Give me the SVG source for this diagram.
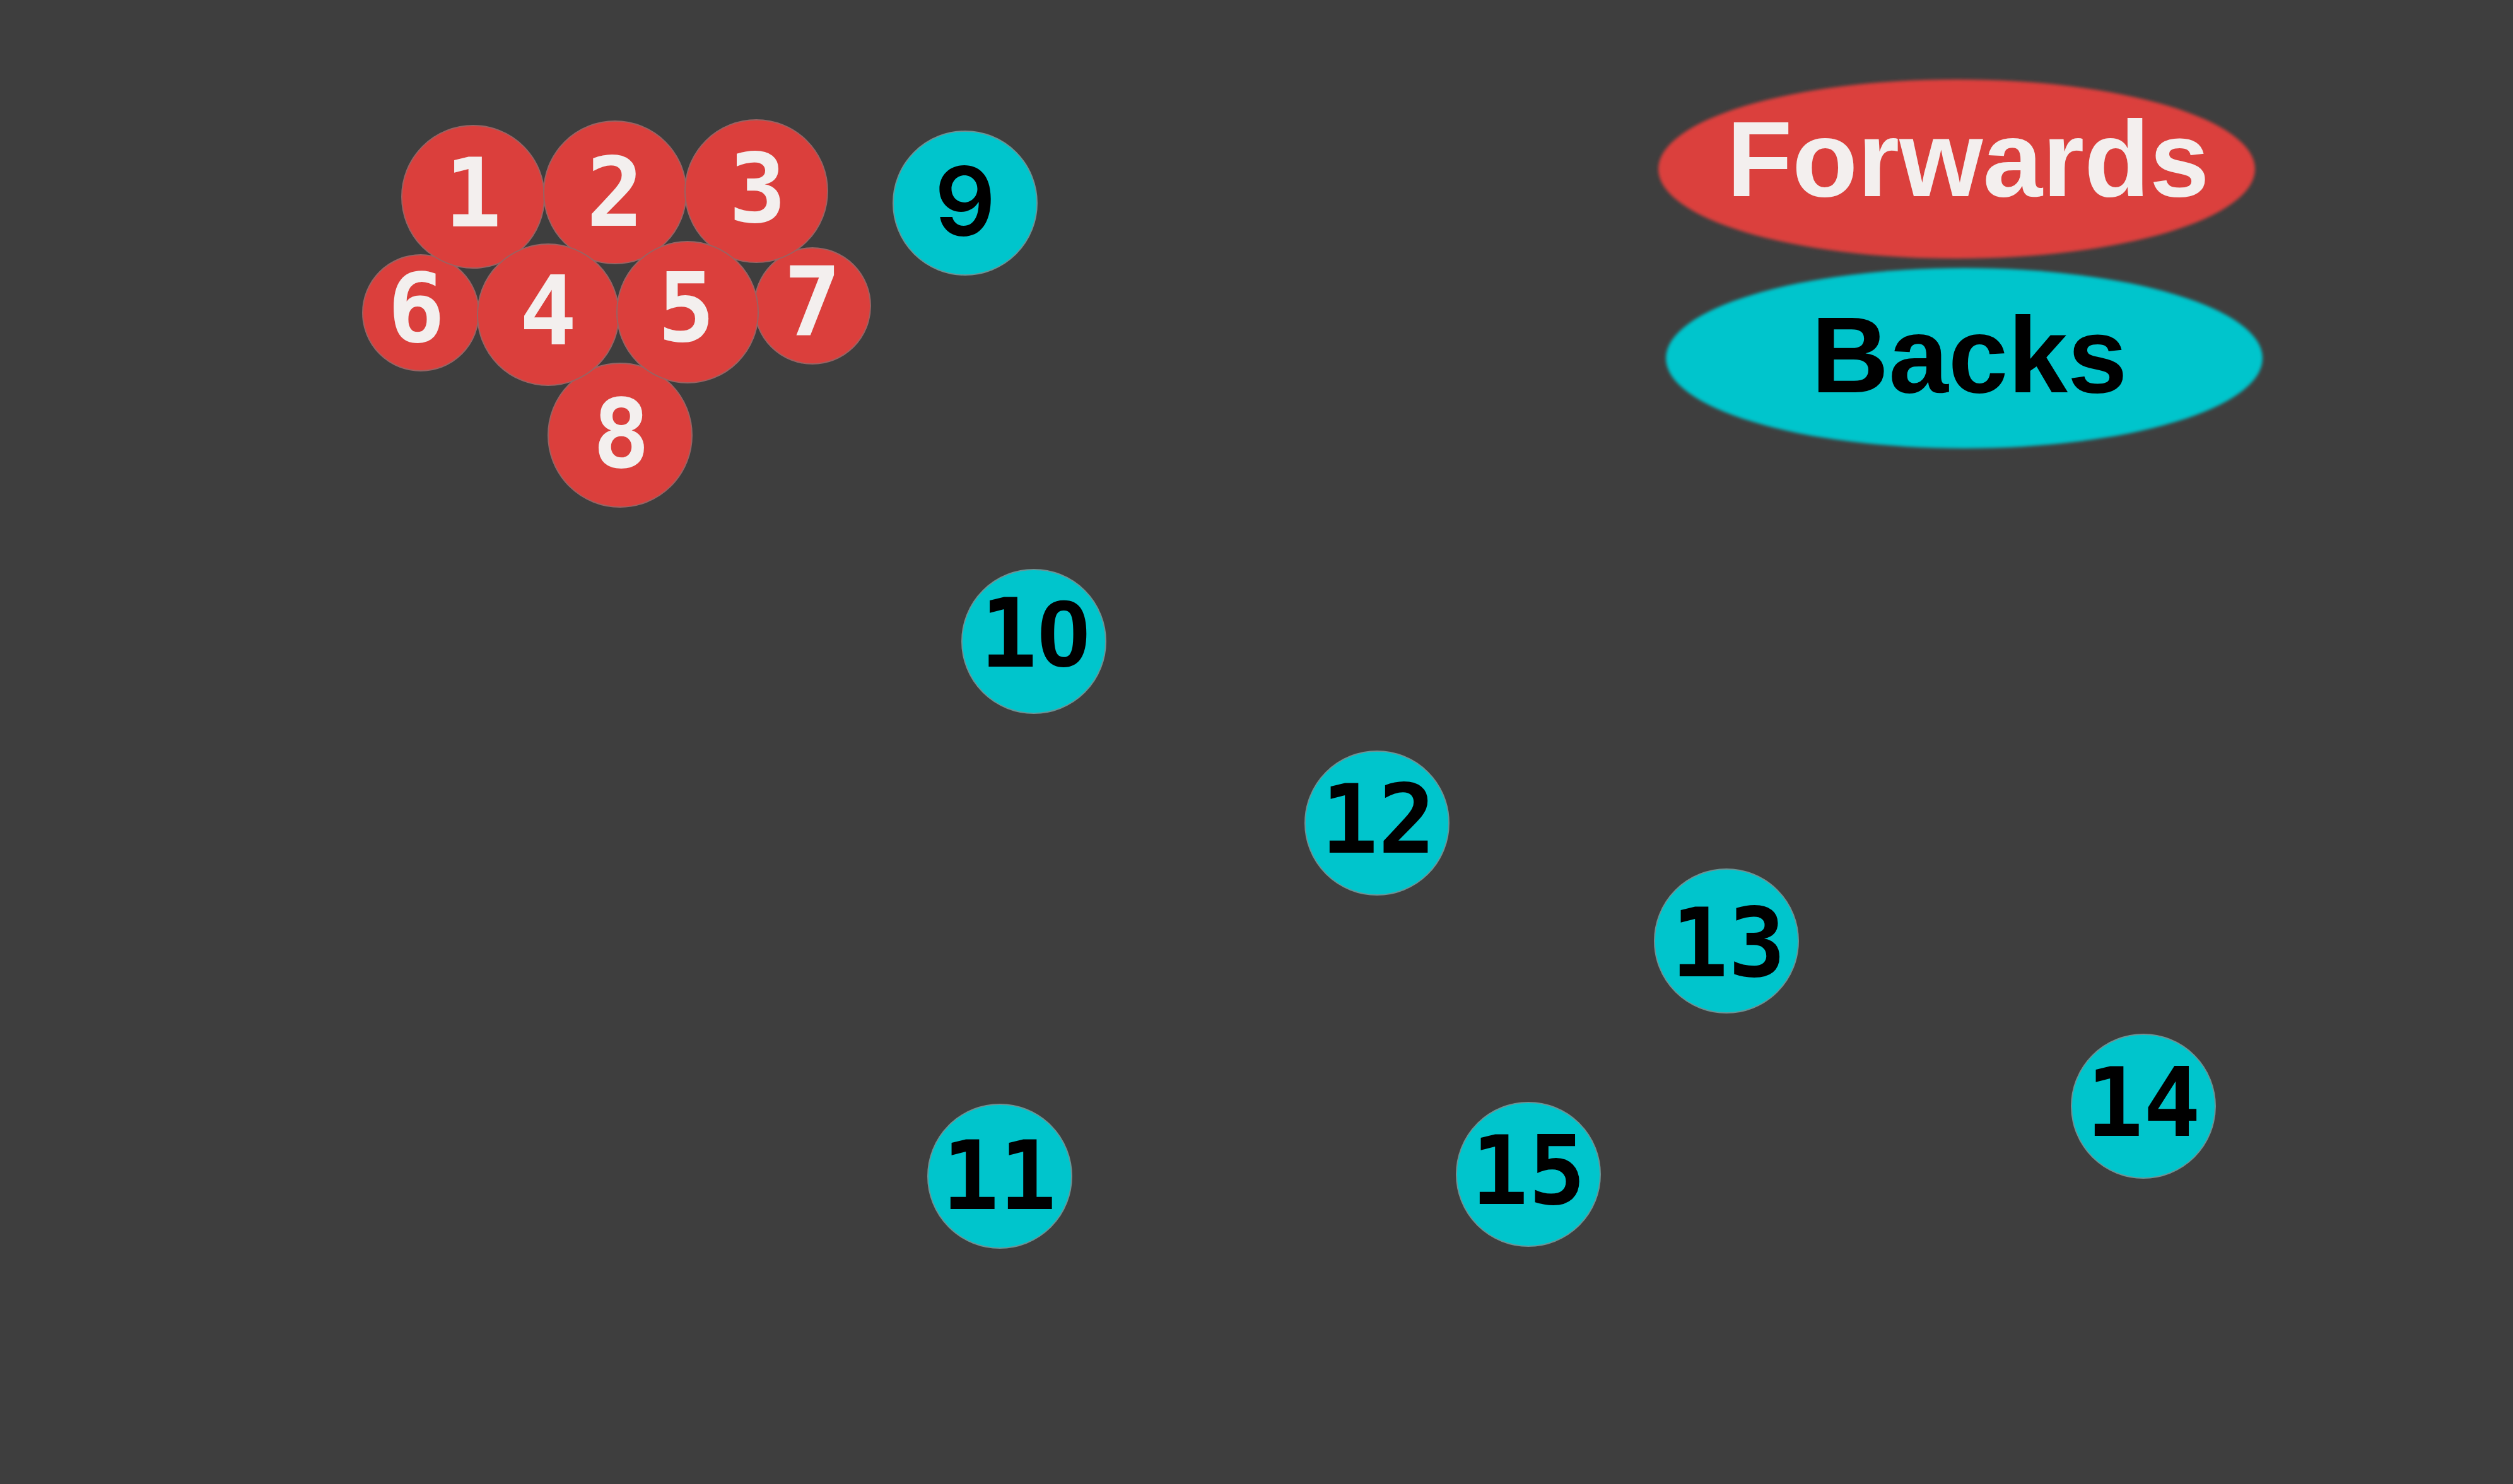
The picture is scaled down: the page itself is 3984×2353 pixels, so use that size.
<svg xmlns="http://www.w3.org/2000/svg" width="3984" height="2353" viewBox="0 0 3984 2353">
<style>
.fw{fill:#db3f3c;stroke:#9a6262;stroke-width:2}
.bk{fill:#00c5cc;stroke:#6a9496;stroke-width:2}
.fwt{fill:#f3efee;font-family:"DejaVu Sans Mono",monospace;font-weight:bold;font-size:151px;text-anchor:middle}
.bkt{fill:#000;font-family:"DejaVu Sans Mono",monospace;font-weight:bold;font-size:151px;text-anchor:middle}
.alt{font-family:"Liberation Sans",Arial,sans-serif}
.geo{font-family:Inter,"Liberation Sans",sans-serif;font-weight:600}
.lg{font-family:"Liberation Sans",Arial,sans-serif;font-weight:bold;font-size:170px;text-anchor:middle}
</style>
<defs>
<filter id="soft" x="-5%" y="-5%" width="110%" height="110%"><feGaussianBlur stdDeviation="2.5"/></filter>
</defs>
<rect width="3984" height="2353" fill="#3e3e3e"/>
<g id="connectors"/>
<g id="legend-forwards"><ellipse cx="3102" cy="268" rx="473" ry="142" fill="#db3f3c" filter="url(#soft)"/><text class="lg" x="3120" y="311" fill="#f3efee">Forwards</text></g>
<g id="legend-backs"><ellipse cx="3114" cy="568" rx="473" ry="143" fill="#00c5cc" filter="url(#soft)"/><text class="lg" x="3122" y="622" fill="#000">Backs</text></g>
<g id="p6"><circle class="fw" cx="667" cy="496" r="92"/><text class="fwt" x="660" y="542">6</text></g>
<g id="p7"><circle class="fw" cx="1288" cy="485" r="92"/><text class="fwt" x="1288" y="531">7</text></g>
<g id="p1"><circle class="fw" cx="750" cy="312" r="113"/><text class="fwt" x="750" y="359">1</text></g>
<g id="p2"><circle class="fw" cx="975" cy="305" r="113"/><text class="fwt" x="975" y="358">2</text></g>
<g id="p3"><circle class="fw" cx="1199" cy="303" r="113"/><text class="fwt" x="1201" y="352">3</text></g>
<g id="p8"><circle class="fw" cx="983" cy="690" r="114"/><text class="fwt" x="985" y="741">8</text></g>
<g id="p4"><circle class="fw" cx="869" cy="499" r="112"/><text class="fwt" x="869" y="546">4</text></g>
<g id="p5"><circle class="fw" cx="1090" cy="495" r="112"/><text class="fwt" x="1088" y="541">5</text></g>
<g id="p9"><circle class="bk" cx="1530" cy="322" r="114"/><text class="bkt geo" x="1530" y="373">9</text></g>
<g id="p10"><circle class="bk" cx="1639" cy="1017" r="114"/><text class="bkt" x="1641" y="1057">1<tspan class="alt">0</tspan></text></g>
<g id="p11"><circle class="bk" cx="1585" cy="1865" r="114"/><text class="bkt" x="1584" y="1917">11</text></g>
<g id="p12"><circle class="bk" cx="2183" cy="1305" r="114"/><text class="bkt" x="2185" y="1352">12</text></g>
<g id="p13"><circle class="bk" cx="2737" cy="1492" r="114"/><text class="bkt" x="2740" y="1548">13</text></g>
<g id="p14"><circle class="bk" cx="3398" cy="1754" r="114"/><text class="bkt" x="3398" y="1801">14</text></g>
<g id="p15"><circle class="bk" cx="2423" cy="1862" r="114"/><text class="bkt" x="2423" y="1909">15</text></g>
</svg>
